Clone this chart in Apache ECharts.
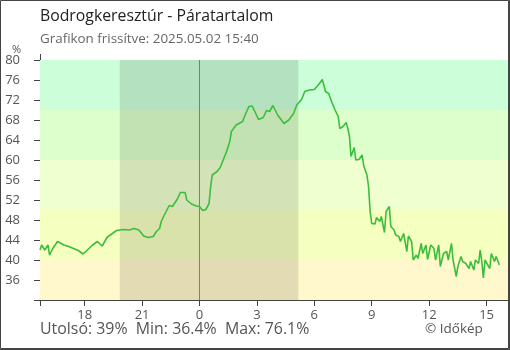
<!DOCTYPE html>
<html>
<head>
<meta charset="utf-8">
<script src="https://cdn.jsdelivr.net/npm/echarts@6/dist/echarts.min.js"></script>
<style>
  html, body { margin: 0; padding: 0; background: #fff; }
  #chart { width: 510px; height: 350px; }
</style>
</head>
<body>
<div id="chart"></div>
<script>
// Relative humidity, 2025.05.01 15:40 – 2025.05.02 15:40
const times = [
  '15:40','15:45','15:55','16:05','16:10','16:20','16:35','16:55','17:10','17:25',
  '17:40','17:55','18:10','18:25','18:40','18:55','19:10','19:25','19:40','20:00',
  '20:20','20:35','20:50','21:05','21:20','21:35','21:45','21:55','22:00','22:10',
  '22:25','22:35','22:50','23:00','23:15','23:20','23:35','23:50','00:00','00:10',
  '00:20','00:30','00:35','00:40','00:55','01:05','01:15','01:25','01:35','01:40',
  '01:55','02:15','02:25','02:35','02:45','02:55','03:05','03:20','03:30','03:40',
  '03:50','04:05','04:25','04:40','04:55','05:05','05:20','05:30','05:45','06:00',
  '06:15','06:25','06:35','06:45','06:55','07:05','07:15','07:20','07:30','07:40',
  '07:45','07:50','07:55','08:05','08:10','08:20','08:30','08:35','08:45','08:50',
  '08:55','09:00','09:10','09:15','09:25','09:30','09:40','09:45','09:55','10:00',
  '10:10','10:15','10:25','10:30','10:40','10:50','10:55','11:05','11:10','11:20',
  '11:25','11:35','11:40','11:50','11:55','12:05','12:15','12:20','12:30','12:35',
  '12:45','12:55','13:00','13:10','13:15','13:25','13:30','13:40','13:45','13:55',
  '14:05','14:10','14:20','14:25','14:35','14:40','14:45','14:50','14:55','15:10',
  '15:15','15:25','15:30','15:40'
];
const humidity = [
  42.0,43.0,42.0,43.0,41.0,42.3,43.7,43.0,42.7,42.3,
  41.9,41.2,42.1,43.0,43.7,42.8,44.5,45.2,45.9,46.1,
  46.0,46.3,46.0,44.8,44.5,44.7,45.7,46.3,47.7,49.0,
  50.9,50.7,52.1,53.5,53.5,52.0,51.2,50.8,50.7,49.9,
  50.1,51.3,54.7,57.0,57.7,58.5,60.1,61.7,63.7,65.7,
  67.0,67.7,69.3,70.7,70.8,69.5,68.1,68.5,69.9,69.7,
  70.9,69.0,67.3,68.0,69.3,71.0,72.1,73.7,74.0,74.1,
  75.2,76.1,73.7,73.3,71.5,70.0,68.7,66.3,66.7,67.5,
  66.3,64.8,60.7,62.5,60.0,60.1,61.0,58.8,57.0,54.7,
  49.7,47.3,47.2,48.5,47.7,48.7,45.5,49.7,50.7,46.7,
  46.0,45.0,44.7,43.7,45.3,41.7,44.8,43.7,40.0,41.0,
  40.3,43.3,41.3,43.0,40.1,43.0,42.3,40.0,43.0,38.7,
  41.3,41.7,40.0,43.3,40.0,36.7,38.7,40.7,39.7,39.3,
  38.3,39.7,38.0,40.0,39.3,42.0,39.7,36.4,40.0,38.3,
  41.3,39.7,40.7,39.0
];

// Hour ticks on the axis (relative to midnight of 05.02)
const hourTicks = [-6, -3, 0, 3, 6, 9, 12, 15];
// Humidity bands [from, to, colour]
const bands = [
  [70, 80, '#ccffd9'],
  [60, 70, '#ddffcc'],
  [50, 60, '#efffcf'],
  [40, 50, '#f5ffc0'],
  [32, 40, '#fff8cc']
];
// Night: sunset 19:50, sunrise 05:10
const nightFrom = '19:50';
const nightTo = '05:10';
// Date change marker (midnight)
const midnight = [[0, 32], [0, 80]];

const title = 'Bodrogkeresztúr - Páratartalom';
const subtitle = 'Grafikon frissítve: 2025.05.02 15:40';
const footer = 'Utolsó: 39%  Min: 36.4%  Max: 76.1%';
const credit = '© Időkép';

function toH(s) {
  const p = s.split(':');
  return +p[0] + (+p[1]) / 60;
}
// convert clock times to hours relative to midnight, rolling over the date change
let dayOff = -24, prev = -1;
const points = times.map((t, i) => {
  const h = toH(t);
  if (h < prev) dayOff += 24;
  prev = h;
  return [h + dayOff, humidity[i]];
});

const xMin = toH(times[0]) - 24;
const xMax = 16.12;
const font = 'Open Sans';
const axisCol = '#444';

const chart = echarts.init(document.getElementById('chart'), null, { renderer: 'canvas' });
chart.setOption({
  animation: false,
  grid: { left: 40, top: 60, right: 2, bottom: 50 },
  xAxis: [{
    type: 'value', min: xMin, max: xMax,
    splitLine: { show: false },
    axisLine: { onZero: false, lineStyle: { color: axisCol } },
    axisTick: { length: 6, customValues: hourTicks, lineStyle: { color: axisCol } },
    axisLabel: {
      customValues: hourTicks, margin: 9,
      color: '#555', fontFamily: font, fontSize: 13,
      formatter: v => String(((Math.round(v) % 24) + 24) % 24)
    }
  }, {
    type: 'value', min: xMin, max: xMax, position: 'bottom', offset: 0,
    splitLine: { show: false },
    axisLine: { show: false, onZero: false },
    axisTick: { inside: true, length: 6, customValues: hourTicks, lineStyle: { color: axisCol } },
    axisLabel: { show: false }
  }],
  yAxis: [{
    type: 'value', min: 32, max: 80, interval: 4,
    splitLine: { show: false },
    axisLine: { show: true, onZero: false, lineStyle: { color: axisCol } },
    axisTick: { show: true, length: 6, lineStyle: { color: axisCol } },
    axisLabel: {
      margin: 20, color: '#555', fontFamily: font, fontSize: 13,
      formatter: v => (v === 32 ? '' : String(v))
    }
  }, {
    type: 'value', min: 32, max: 80, interval: 4, position: 'left', offset: 0,
    splitLine: { show: false },
    axisLine: { show: false, onZero: false },
    axisTick: { show: true, inside: true, length: 6, lineStyle: { color: axisCol } },
    axisLabel: { show: false }
  }],
  series: [{
    name: 'bands', type: 'line', data: [], z: 1, silent: true,
    markArea: {
      silent: true,
      data: bands.map(b => [
        { yAxis: b[0], itemStyle: { color: b[2] } },
        { yAxis: b[1] }
      ])
    }
  }, {
    name: 'night', type: 'line', data: [], z: 2, silent: true,
    markArea: {
      silent: true,
      itemStyle: { color: 'rgba(0,0,0,0.113)' },
      data: [[{ xAxis: toH(nightFrom) - 24 }, { xAxis: toH(nightTo) }]]
    }
  }, {
    name: 'midnight', type: 'line', data: midnight, z: 3, silent: true,
    showSymbol: false,
    lineStyle: { color: '#3a90d0', width: 1 }
  }, {
    name: 'Páratartalom', type: 'line', data: points, z: 4,
    showSymbol: false, smooth: false,
    lineStyle: { color: '#3cbe3c', width: 1.6 }
  }],
  graphic: [
    { type: 'text', left: 40, top: 8, style: { text: title, font: '15.8px "Open Sans"', fill: '#222' } },
    { type: 'text', left: 40, top: 33, style: { text: subtitle, font: '13.4px "Open Sans"', fill: '#666' } },
    { type: 'text', left: 12, top: 44, style: { text: '%', font: '11px "Open Sans"', fill: '#555' } },
    { type: 'text', left: 40, top: 321, style: { text: footer, font: '15.9px "Open Sans"', fill: '#555' } },
    { type: 'text', left: 425, top: 322, style: { text: credit, font: '13.5px "Open Sans"', fill: '#555' } },
    // axis overshoot above and below the plot
    { type: 'line', shape: { x1: 40.5, y1: 54, x2: 40.5, y2: 60 }, style: { stroke: axisCol, lineWidth: 1 } },
    { type: 'line', shape: { x1: 40.5, y1: 300, x2: 40.5, y2: 306 }, style: { stroke: axisCol, lineWidth: 1 } },
    // frame
    { type: 'rect', shape: { x: 0.5, y: 0.5, width: 508, height: 348 }, style: { fill: null, stroke: '#444', lineWidth: 1 } },
    { type: 'line', shape: { x1: 509.5, y1: 0, x2: 509.5, y2: 350 }, style: { stroke: '#444', lineWidth: 1 } },
    { type: 'line', shape: { x1: 0, y1: 349.5, x2: 510, y2: 349.5 }, style: { stroke: '#444', lineWidth: 1 } }
  ]
});
</script>
</body>
</html>
